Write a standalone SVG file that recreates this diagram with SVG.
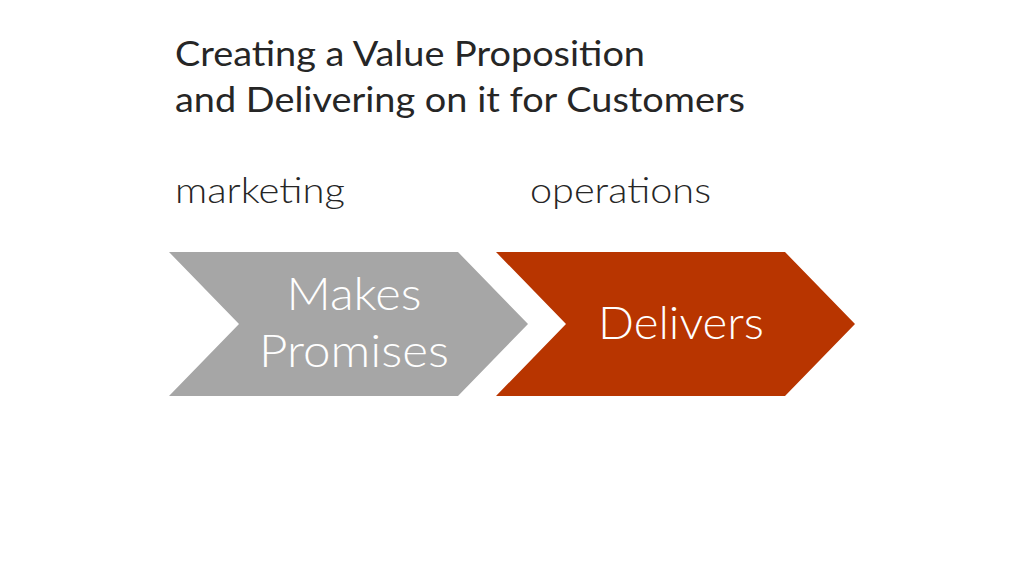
<svg xmlns="http://www.w3.org/2000/svg" width="1024" height="576" viewBox="0 0 1024 576">
<style>
.t{font-family:Lato,"Open Sans","Liberation Sans",sans-serif;fill:#262626;font-size:35px}
.l{font-family:Lato,"Open Sans","Liberation Sans",sans-serif;fill:#262626;font-size:35px;font-weight:300}
.w{font-family:Lato,"Open Sans","Liberation Sans",sans-serif;fill:#fff;font-size:45px;text-anchor:middle;font-weight:300}
</style>
<rect width="1024" height="576" fill="#fff"/>
<g id="title"><text class="t" x="175" y="66" textLength="470" lengthAdjust="spacingAndGlyphs">Creating a Value Proposition</text><text class="t" x="175" y="112" textLength="570" lengthAdjust="spacingAndGlyphs">and Delivering on it for Customers</text></g>
<g id="labels"><text class="l" x="175" y="203" textLength="170" lengthAdjust="spacingAndGlyphs">marketing</text><text class="l" x="530" y="203" textLength="181" lengthAdjust="spacingAndGlyphs">operations</text></g>
<g id="connectors"/>
<g id="makes"><polygon points="169,252 458,252 528,324 458,396 169,396 239,324" fill="#a6a6a6"/><text class="w" x="354" y="310" textLength="135" lengthAdjust="spacingAndGlyphs">Makes</text><text class="w" x="354" y="367" textLength="190" lengthAdjust="spacingAndGlyphs">Promises</text></g>
<g id="delivers"><polygon points="496,252 785,252 855,324 785,396 496,396 566,324" fill="#b83500"/><text class="w" x="681" y="339" textLength="166" lengthAdjust="spacingAndGlyphs">Delivers</text></g>
</svg>
